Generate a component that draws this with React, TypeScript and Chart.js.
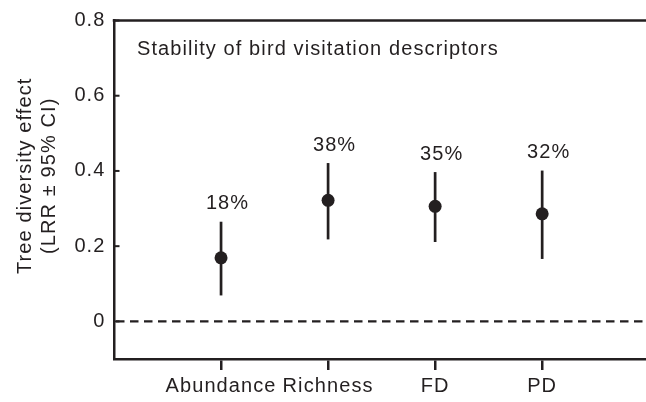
import React, { useEffect, useRef } from "react";
import { Chart, registerables } from "chart.js";

Chart.register(...registerables);

const categories = ["Abundance", "Richness", "FD", "PD"];
const means = [0.169, 0.322, 0.306, 0.286];
const lower = [0.069, 0.218, 0.211, 0.166];
const upper = [0.265, 0.421, 0.397, 0.401];
const percentLabels = ["18%", "38%", "35%", "32%"];
const yTicks = [0, 0.2, 0.4, 0.6, 0.8];
const panelTitle = "Stability of bird visitation descriptors";
const yTitleLines = ["Tree diversity effect", "(LRR \u00b1 95% CI)"];

const INK = "#231f20";
const FONT = "'Liberation Sans', Arial, Helvetica, sans-serif";
const LS = "1.1px";

const decor = {
  id: "decor",
  beforeLayout(chart: any) {
    chart.ctx.letterSpacing = LS;
  },
  beforeDraw(chart: any) {
    chart.ctx.letterSpacing = LS;
  },
  beforeDatasetsDraw(chart: any) {
    const { ctx, chartArea: a, scales } = chart;
    const x = scales.x;
    const y = scales.y;
    ctx.save();
    ctx.strokeStyle = INK;
    ctx.lineCap = "butt";
    ctx.lineWidth = 2.5;
    ctx.beginPath();
    ctx.moveTo(a.left - 1.25, a.top);
    ctx.lineTo(a.right, a.top);
    ctx.stroke();
    ctx.lineWidth = 2;
    yTicks.forEach((v) => {
      const py = y.getPixelForValue(v);
      ctx.beginPath();
      ctx.moveTo(a.left, py);
      ctx.lineTo(a.left + 5.5, py);
      ctx.stroke();
    });
    ctx.setLineDash([8.5, 5.5]);
    ctx.lineWidth = 2.2;
    const y0 = y.getPixelForValue(0);
    ctx.beginPath();
    ctx.moveTo(a.left + 2, y0);
    ctx.lineTo(a.right, y0);
    ctx.stroke();
    ctx.setLineDash([]);
    ctx.lineWidth = 2.7;
    categories.forEach((_, i) => {
      const px = x.getPixelForValue(i + 1);
      ctx.beginPath();
      ctx.moveTo(px, y.getPixelForValue(upper[i]));
      ctx.lineTo(px, y.getPixelForValue(lower[i]));
      ctx.stroke();
    });
    ctx.restore();
  },
  afterDatasetsDraw(chart: any) {
    const { ctx, chartArea: a, scales } = chart;
    const x = scales.x;
    const y = scales.y;
    ctx.save();
    ctx.letterSpacing = LS;
    ctx.fillStyle = INK;
    ctx.font = `20px ${FONT}`;
    ctx.textBaseline = "alphabetic";
    ctx.textAlign = "left";
    ctx.fillText(panelTitle, a.left + 23, a.top + 34);
    ctx.textAlign = "center";
    categories.forEach((_, i) => {
      const px = x.getPixelForValue(i + 1);
      const py = y.getPixelForValue(upper[i]);
      ctx.fillText(percentLabels[i], px + 6.5, py - 12.4);
    });
    const cy = (a.top + a.bottom) / 2 - 14;
    const baseX = [31, 55];
    yTitleLines.forEach((line, i) => {
      ctx.save();
      ctx.translate(baseX[i], cy);
      ctx.rotate(-Math.PI / 2);
      ctx.textAlign = "center";
      ctx.fillText(line, 0, 0);
      ctx.restore();
    });
    ctx.restore();
  },
};

export default function App() {
  const ref = useRef<HTMLCanvasElement | null>(null);
  useEffect(() => {
    if (!ref.current) return;
    const chart = new Chart(ref.current, {
      type: "scatter",
      data: {
        datasets: [
          {
            data: means.map((m, i) => ({ x: i + 1, y: m })),
            pointRadius: 6.5,
            pointHoverRadius: 6.5,
            backgroundColor: INK,
            borderWidth: 0,
            showLine: false,
          },
        ],
      },
      options: {
        responsive: false,
        animation: false,
        events: [],
        layout: { autoPadding: false, padding: { top: 18.3, right: 0, bottom: 0, left: 0 } },
        plugins: {
          legend: { display: false },
          tooltip: { enabled: false },
        },
        scales: {
          x: {
            type: "linear",
            min: 0,
            max: 4.97,
            afterBuildTicks: (s: any) => {
              s.ticks = categories.map((_, i) => ({ value: i + 1 }));
            },
            afterFit: (s: any) => {
              s.height = 43;
            },
            grid: {
              display: true,
              drawOnChartArea: false,
              drawTicks: true,
              tickLength: 11,
              lineWidth: 2.5,
              color: INK,
            },
            border: { display: true, width: 2.5, color: INK },
            ticks: {
              autoSkip: false,
              maxRotation: 0,
              padding: 4,
              color: INK,
              font: { family: FONT, size: 20 },
              callback: (v: any) => categories[Math.round(v) - 1] ?? "",
            },
          },
          y: {
            type: "linear",
            min: -0.1,
            max: 0.8,
            afterBuildTicks: (s: any) => {
              s.ticks = yTicks.map((v) => ({ value: v }));
            },
            afterFit: (s: any) => {
              s.width = 114;
            },
            grid: { display: false, drawTicks: false },
            border: { display: true, width: 2.5, color: INK },
            ticks: {
              padding: 8.5,
              color: INK,
              font: { family: FONT, size: 20 },
              callback: (v: any) => (v === 0 ? "0" : Number(v).toFixed(1)),
            },
          },
        },
      },
      plugins: [decor],
    } as any);
    return () => chart.destroy();
  }, []);
  return (
    <div style={{ position: "absolute", left: 0, top: 0, width: 646, height: 402, background: "#fff" }}>
      <canvas ref={ref} width={646} height={402} style={{ display: "block" }} />
    </div>
  );
}
